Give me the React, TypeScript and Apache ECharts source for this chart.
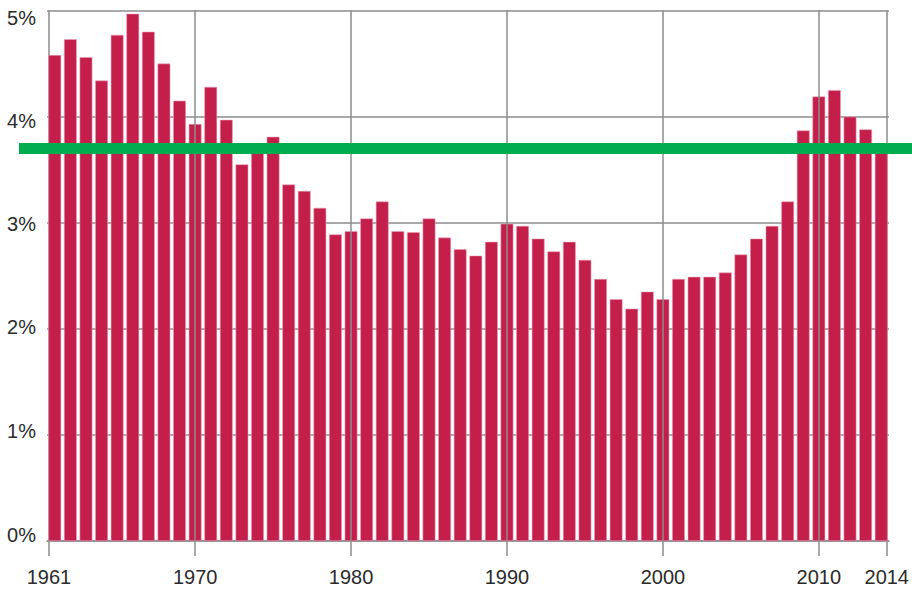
import React, { useEffect, useRef } from "react";
import * as echarts from "echarts";

const YEARS = [
  "1961", "1962", "1963", "1964", "1965", "1966", "1967", "1968", "1969", "1970",
  "1971", "1972", "1973", "1974", "1975", "1976", "1977", "1978", "1979", "1980",
  "1981", "1982", "1983", "1984", "1985", "1986", "1987", "1988", "1989", "1990",
  "1991", "1992", "1993", "1994", "1995", "1996", "1997", "1998", "1999", "2000",
  "2001", "2002", "2003", "2004", "2005", "2006", "2007", "2008", "2009", "2010",
  "2011", "2012", "2013", "2014",
];

const VALUES = [
  4.58, 4.73, 4.56, 4.34, 4.77, 4.97, 4.8, 4.5, 4.15, 3.93,
  4.28, 3.97, 3.55, 3.7, 3.81, 3.36, 3.3, 3.14, 2.89, 2.92,
  3.04, 3.2, 2.92, 2.91, 3.04, 2.86, 2.75, 2.69, 2.82, 2.99,
  2.97, 2.85, 2.73, 2.82, 2.65, 2.47, 2.28, 2.19, 2.35, 2.28,
  2.47, 2.49, 2.49, 2.53, 2.7, 2.85, 2.97, 3.2, 3.87, 4.19,
  4.25, 4.0, 3.88, 3.72,
];

const DECADES = ["1970", "1980", "1990", "2000", "2010"];

const AVERAGE = 3.7;
const Y_MIN = 0;
const Y_MAX = 5;
const Y_STEP = 1;

const FONT = "'Liberation Sans', Arial, sans-serif";
const GRID_COLOR = "#8c8c8c";
const BAR_COLOR = "#C41F4B";
const LINE_COLOR = "#00AD4E";

// vertical label nudges (style only): padding [top, right, bottom, left]
const Y_LABEL_RICH: Record<string, any> = {
  n5: { padding: [15, 0, 0, 0] },
  n4: { padding: [9, 0, 0, 0] },
  n3: { padding: [2, 0, 0, 0] },
  n2: { padding: [0, 0, 3, 0] },
  n1: { padding: [0, 0, 8, 0] },
  n0: { padding: [0, 0, 12, 0] },
};

export default function App() {
  const ref = useRef<HTMLDivElement>(null);

  useEffect(() => {
    if (!ref.current) return;
    const chart = echarts.init(ref.current, null, { renderer: "svg" });

    const isDecade = (_i: number, v: string) => DECADES.indexOf(v) >= 0;
    const isEdge = (i: number) => i === 0 || i === YEARS.length - 1;

    const labelStyle = {
      fontFamily: FONT,
      fontSize: 20,
      color: "#2b2b2b",
    };

    const rich: Record<string, any> = {};
    Object.keys(Y_LABEL_RICH).forEach((k) => {
      rich[k] = { ...labelStyle, ...Y_LABEL_RICH[k] };
    });

    chart.setOption({
      animation: false,
      backgroundColor: "#ffffff",
      grid: [
        { left: 47, right: 23, top: 10.5, bottom: 50, containLabel: false },
        { left: 49, right: 25, top: 10.5, bottom: 50, containLabel: false },
        { left: 19, right: 0, top: 10.5, bottom: 50, containLabel: false },
      ],
      xAxis: [
        {
          type: "category",
          gridIndex: 0,
          data: YEARS,
          boundaryGap: true,
          position: "bottom",
          axisLine: { show: true, lineStyle: { color: GRID_COLOR, width: 1.5 } },
          axisTick: {
            show: true,
            interval: isDecade,
            alignWithLabel: true,
            length: 15,
            lineStyle: { color: GRID_COLOR, width: 1.5 },
          },
          axisLabel: { interval: isDecade, margin: 26, ...labelStyle },
          splitLine: { show: false },
        },
        {
          type: "category",
          gridIndex: 1,
          data: YEARS,
          boundaryGap: false,
          position: "bottom",
          axisLine: { show: false },
          axisTick: {
            show: true,
            interval: isEdge,
            length: 15,
            lineStyle: { color: GRID_COLOR, width: 1.5 },
          },
          axisLabel: {
            interval: isEdge,
            margin: 26,
            showMinLabel: true,
            showMaxLabel: true,
            ...labelStyle,
          },
          splitLine: {
            show: true,
            interval: isEdge,
            lineStyle: { color: GRID_COLOR, width: 1.5 },
          },
        },
        {
          type: "value",
          gridIndex: 2,
          min: 0,
          max: 1,
          show: false,
        },
      ],
      yAxis: [
        {
          type: "value",
          gridIndex: 0,
          min: Y_MIN,
          max: Y_MAX,
          interval: Y_STEP,
          axisLine: { show: false },
          axisTick: { show: false },
          axisLabel: {
            formatter: (v: number) => `{n${v}|${v}%}`,
            margin: 11,
            rich,
            ...labelStyle,
          },
          splitLine: { show: true, lineStyle: { color: GRID_COLOR, width: 1.5 } },
        },
        {
          type: "value",
          gridIndex: 1,
          min: Y_MIN,
          max: Y_MAX,
          interval: Y_STEP,
          axisLine: { show: false },
          axisTick: { show: false },
          axisLabel: { show: false },
          splitLine: { show: false },
        },
        {
          type: "value",
          gridIndex: 2,
          min: Y_MIN,
          max: Y_MAX,
          show: false,
        },
      ],
      series: [
        {
          type: "line",
          xAxisIndex: 0,
          yAxisIndex: 0,
          data: [],
          z: 1,
          silent: true,
          markLine: {
            silent: true,
            symbol: ["none", "none"],
            label: { show: false },
            lineStyle: { color: GRID_COLOR, width: 1.5, type: "solid" },
            data: DECADES.map((d) => ({ xAxis: d })),
          },
        },
        {
          type: "bar",
          xAxisIndex: 0,
          yAxisIndex: 0,
          data: VALUES,
          barCategoryGap: "18%",
          z: 3,
          itemStyle: {
            color: BAR_COLOR,
            borderColor: "rgba(236,160,182,0.9)",
            borderWidth: 0.6,
          },
          silent: true,
        },
        {
          type: "line",
          xAxisIndex: 2,
          yAxisIndex: 2,
          data: [],
          z: 5,
          silent: true,
          markLine: {
            silent: true,
            symbol: ["none", "none"],
            label: { show: false },
            lineStyle: { color: LINE_COLOR, width: 11, type: "solid" },
            data: [{ yAxis: AVERAGE }],
          },
        },
      ],
    });

    return () => chart.dispose();
  }, []);

  return (
    <div
      ref={ref}
      style={{ position: "fixed", left: 0, top: 0, width: 912, height: 591 }}
    />
  );
}
